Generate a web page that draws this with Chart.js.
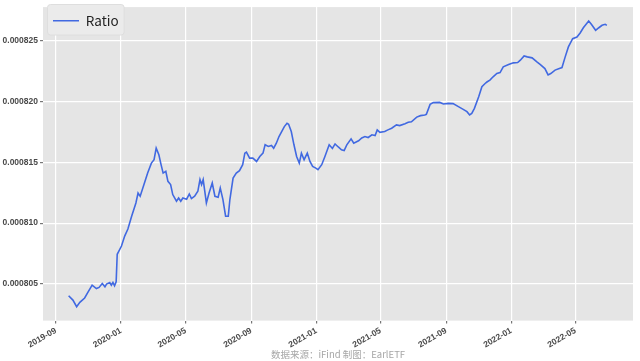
<!DOCTYPE html>
<html>
<head>
<meta charset="utf-8">
<script src="https://cdn.jsdelivr.net/npm/chart.js@4.4.1/dist/chart.umd.min.js"></script>
<style>
    html, body { margin: 0; padding: 0; background: #ffffff; }
    #wrap { width: 640px; height: 361px; }
</style>
</head>
<body>
<div id="wrap"><canvas id="mainChart"></canvas></div>
<script>
/*
    Ratio line chart
*/

var dates = [
    '2019-09-25','2019-10-03','2019-10-10','2019-10-16','2019-10-25','2019-10-31','2019-11-08','2019-11-16',
    '2019-11-21','2019-11-27','2019-12-02','2019-12-05','2019-12-11','2019-12-14','2019-12-17','2019-12-20',
    '2019-12-23','2019-12-25','2020-01-02','2020-01-08','2020-01-14','2020-01-21','2020-01-29','2020-02-02',
    '2020-02-06','2020-02-14','2020-02-20','2020-02-27','2020-03-03','2020-03-07','2020-03-12','2020-03-16',
    '2020-03-20','2020-03-25','2020-03-29','2020-04-03','2020-04-07','2020-04-14','2020-04-18','2020-04-22',
    '2020-04-26','2020-05-03','2020-05-08','2020-05-12','2020-05-18','2020-05-24','2020-05-28','2020-05-31',
    '2020-06-03','2020-06-09','2020-06-14','2020-06-20','2020-06-25','2020-07-01','2020-07-05','2020-07-10',
    '2020-07-15','2020-07-20','2020-07-23','2020-07-29','2020-08-04','2020-08-10','2020-08-16','2020-08-20',
    '2020-08-23','2020-08-29','2020-09-04','2020-09-11','2020-09-17','2020-09-23','2020-09-27','2020-10-03',
    '2020-10-09','2020-10-13','2020-10-18','2020-10-23','2020-10-28','2020-11-02','2020-11-07','2020-11-10',
    '2020-11-15','2020-11-20','2020-11-25','2020-11-30','2020-12-04','2020-12-09','2020-12-15','2020-12-20',
    '2020-12-25','2020-12-31','2021-01-04','2021-01-11','2021-01-17','2021-01-25','2021-01-31','2021-02-05',
    '2021-02-11','2021-02-17','2021-02-22','2021-02-27','2021-03-07','2021-03-12','2021-03-21','2021-03-27',
    '2021-04-02','2021-04-08','2021-04-15','2021-04-21','2021-04-25','2021-04-30','2021-05-09','2021-05-15',
    '2021-05-22','2021-05-31','2021-06-06','2021-06-16','2021-06-22','2021-06-28','2021-07-08','2021-07-15',
    '2021-07-23','2021-07-26','2021-08-02','2021-08-08','2021-08-20','2021-08-27','2021-09-05','2021-09-14',
    '2021-09-24','2021-10-03','2021-10-10','2021-10-15','2021-10-19','2021-10-24','2021-11-01','2021-11-07',
    '2021-11-13','2021-11-17','2021-11-22','2021-11-28','2021-12-05','2021-12-11','2021-12-17','2021-12-27',
    '2022-01-05','2022-01-13','2022-01-18','2022-01-25','2022-01-31','2022-02-09','2022-02-18','2022-02-24',
    '2022-03-05','2022-03-11','2022-03-16','2022-03-24','2022-04-01','2022-04-06','2022-04-12','2022-04-18',
    '2022-04-26','2022-05-04','2022-05-10','2022-05-16','2022-05-26','2022-05-31','2022-06-08','2022-06-14',
    '2022-06-20','2022-06-26','2022-06-29'
];

var ratio = [
    0.00080402,0.00080366,0.00080311,0.00080347,0.00080383,0.00080429,0.00080489,0.00080461,
    0.00080470,0.00080502,0.00080475,0.00080498,0.00080511,0.00080489,0.00080511,0.00080484,
    0.00080516,0.00080743,0.00080811,0.00080893,0.00080951,0.00081057,0.00081166,0.00081248,
    0.00081221,0.00081330,0.00081412,0.00081494,0.00081522,0.00081617,0.00081563,0.00081484,
    0.00081412,0.00081426,0.00081344,0.00081317,0.00081235,0.00081180,0.00081207,0.00081180,
    0.00081207,0.00081197,0.00081240,0.00081202,0.00081221,0.00081262,0.00081358,0.00081317,
    0.00081358,0.00081166,0.00081248,0.00081330,0.00081221,0.00081213,0.00081289,0.00081194,
    0.00081057,0.00081057,0.00081194,0.00081371,0.00081412,0.00081432,0.00081481,0.00081576,
    0.00081584,0.00081535,0.00081535,0.00081508,0.00081549,0.00081576,0.00081645,0.00081631,
    0.00081639,0.00081617,0.00081658,0.00081713,0.00081754,0.00081795,0.00081822,0.00081814,
    0.00081754,0.00081645,0.00081549,0.00081494,0.00081576,0.00081522,0.00081576,0.00081508,
    0.00081467,0.00081453,0.00081440,0.00081481,0.00081549,0.00081645,0.00081615,0.00081652,
    0.00081627,0.00081604,0.00081598,0.00081645,0.00081694,0.00081658,0.00081678,0.00081701,
    0.00081713,0.00081705,0.00081727,0.00081721,0.00081768,0.00081748,0.00081754,0.00081768,
    0.00081781,0.00081809,0.00081803,0.00081818,0.00081830,0.00081834,0.00081873,0.00081885,
    0.00081891,0.00081896,0.00081978,0.00081992,0.00081994,0.00081981,0.00081986,0.00081984,
    0.00081959,0.00081937,0.00081918,0.00081891,0.00081904,0.00081945,0.00082041,0.00082123,
    0.00082150,0.00082164,0.00082178,0.00082205,0.00082232,0.00082240,0.00082287,0.00082306,
    0.00082320,0.00082322,0.00082342,0.00082377,0.00082369,0.00082361,0.00082328,0.00082307,
    0.00082273,0.00082221,0.00082232,0.00082260,0.00082273,0.00082281,0.00082369,0.00082451,
    0.00082519,0.00082533,0.00082566,0.00082609,0.00082664,0.00082637,0.00082588,0.00082609,
    0.00082629,0.00082637,0.00082629
];

var monthTicks = ['2019-09-01','2020-01-01','2020-05-01','2020-09-01','2021-01-01','2021-05-01','2021-09-01','2022-01-01','2022-05-01'];
var valueTicks = [0.000805, 0.000810, 0.000815, 0.000820, 0.000825];

var xMin = '2019-08-08';
var xMax = '2022-08-17';
var yMin = 0.00080197;
var yMax = 0.00082779;

var tickFont = { family: "'Liberation Sans', Arial, sans-serif", size: 8.5, weight: 'bold' };

// grey plot background + legend frame
var bgPlugin = {
    id: 'bgPlugin',
    beforeDraw: function(chart){
        var a = chart.chartArea;
        var ctx = chart.ctx;
        ctx.save();
        ctx.fillStyle = '#e5e5e5';
        ctx.fillRect(a.left, a.top, a.right - a.left, a.bottom - a.top);
        ctx.restore();
    },
    beforeDatasetsDraw: function(chart){
        var lg = chart.legend;
        if(!lg || !lg.legendHitBoxes || !lg.legendHitBoxes.length) return;
        var hb = lg.legendHitBoxes[0];
        var dy = 4;
        var ctx = chart.ctx;
        ctx.save();
        ctx.fillStyle = '#ebebeb';
        ctx.strokeStyle = '#dedede';
        ctx.lineWidth = 1;
        ctx.beginPath();
        ctx.roundRect(hb.left - 5.5, hb.top - 9.5 + dy, hb.width + 11, hb.height + 17, 3);
        ctx.fill();
        ctx.stroke();
        ctx.translate(0, dy);
        lg.draw();
        ctx.restore();
    }
};

var points = dates.map(function(d, i){
    return { x: Date.parse(d), y: ratio[i] };
});

var ctx = document.getElementById('mainChart');

var config = {
    type: 'line',
    data: {
        datasets: [
            {
                label: 'Ratio',
                data: points,
                borderColor: '#4169e1',
                backgroundColor: '#4169e1',
                borderWidth: 1.6,
                pointRadius: 0,
                tension: 0,
                fill: false
            }
        ]
    },
    options: {
        responsive: true,
        maintainAspectRatio: false,
        animation: false,
        events: [],
        layout: {
            padding: { top: 5, right: 7, left: 0, bottom: 0 }
        },
        plugins: {
            legend: {
                display: true,
                position: 'chartArea',
                align: 'start',
                labels: {
                    usePointStyle: true,
                    pointStyle: 'line',
                    pointStyleWidth: 26,
                    boxHeight: 13,
                    padding: 10,
                    color: '#222',
                    font: { family: "'Noto Sans CJK SC', 'Noto Sans', sans-serif", size: 13.5 }
                }
            },
            title: {
                display: true,
                position: 'bottom',
                fullSize: false,
                text: '数据来源：iFind 制图：EarlETF',
                color: '#a6a6a6',
                font: { family: "'Noto Sans CJK SC', sans-serif", size: 9.5, weight: 'normal' },
                padding: { top: 0, bottom: 1 }
            },
            tooltip: { enabled: false }
        },
        scales: {
            x: {
                type: 'linear',
                min: Date.parse(xMin),
                max: Date.parse(xMax),
                afterBuildTicks: function(scale){
                    scale.ticks = monthTicks.map(function(m){ return { value: Date.parse(m) }; });
                },
                afterFit: function(scale){
                    scale.height = 28;
                },
                border: { display: false },
                grid: {
                    color: '#ffffff',
                    lineWidth: 1.2,
                    tickColor: '#777',
                    tickLength: 3
                },
                ticks: {
                    autoSkip: false,
                    minRotation: 30,
                    maxRotation: 30,
                    padding: 2,
                    color: '#4a4a4a',
                    font: tickFont,
                    callback: function(value){
                        return new Date(value).toISOString().slice(0, 7);
                    }
                }
            },
            y: {
                type: 'linear',
                min: yMin,
                max: yMax,
                afterBuildTicks: function(scale){
                    scale.ticks = valueTicks.map(function(v){ return { value: v }; });
                },
                afterFit: function(scale){
                    scale.width = 43;
                },
                border: { display: false },
                grid: {
                    color: '#ffffff',
                    lineWidth: 1.2,
                    tickColor: '#777',
                    tickLength: 3
                },
                ticks: {
                    padding: 2,
                    color: '#4a4a4a',
                    font: tickFont,
                    callback: function(value){
                        return value.toFixed(6);
                    }
                }
            }
        }
    },
    plugins: [bgPlugin]
};

new Chart(ctx, config);
</script>
</body>
</html>
